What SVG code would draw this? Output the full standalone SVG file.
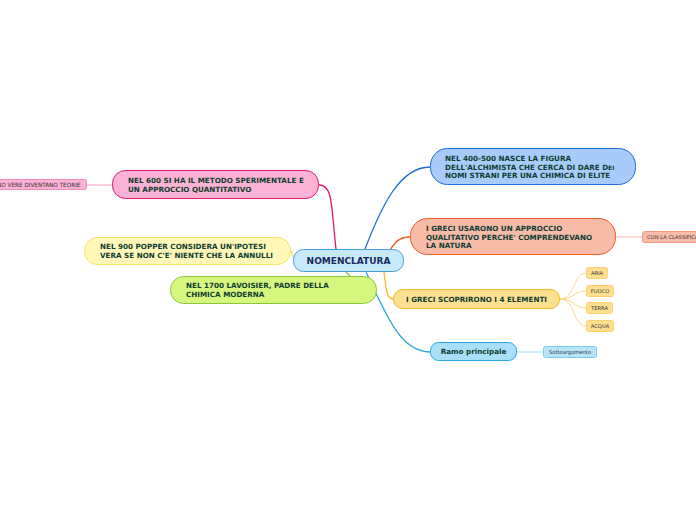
<svg xmlns="http://www.w3.org/2000/svg" width="696" height="520" viewBox="0 0 696 520">
<style>
text{font-family:"DejaVu Sans","Verdana",sans-serif;font-weight:bold;fill:#0f3d33;font-size:7.2px}
.sm{font-size:5.2px;font-weight:normal;fill:#333}
.c{fill:none;stroke-width:1.3}
.cs{fill:none;stroke-width:1}
</style>
<rect width="696" height="520" fill="#fff"/>
<g id="connectors">
<path class="c" stroke="#e8136f" d="M336,249 C331,205 333,185 319,185"/>
<path class="c" stroke="#1c6bd8" d="M365,249 C382,205 400,167 430,167"/>
<path class="c" stroke="#f25a29" d="M390,250 C396,241 400,237 410,237"/>
<path class="c" stroke="#f0e060" d="M293,257 C292,253 292,251 291,251"/>
<path class="c" stroke="#8cc63f" d="M346,272 C348,274 349,275 350,276"/>
<path class="c" stroke="#f5b921" d="M384,272 C386,290 387,299 393,299"/>
<path class="c" stroke="#2aa4e0" d="M366,272 C388,320 402,352 430,352"/>
<path class="cs" stroke="#f9a0c8" d="M87,185 L112,185"/>
<path class="cs" stroke="#f8bba8" d="M616,237 L642,237"/>
<path class="cs" stroke="#9fdaf7" d="M517,352 L543,352"/>
<path class="cs" stroke="#fcd98a" d="M560,299 C575,299 573,273 586,273"/>
<path class="cs" stroke="#fcd98a" d="M560,299 C575,299 573,291 586,291"/>
<path class="cs" stroke="#fcd98a" d="M560,299 C575,299 573,308 586,308"/>
<path class="cs" stroke="#fcd98a" d="M560,299 C575,299 573,326 586,326"/>
</g>
<g id="center">
<rect x="293.5" y="249.5" width="110" height="22" rx="10" fill="#c6e9fb" stroke="#4a9fd8"/>
<text x="348.5" y="264" text-anchor="middle" style="font-size:9px;fill:#1a2a5a">NOMENCLATURA</text>
</g>
<g id="n600">
<rect x="112.5" y="170.5" width="206" height="28" rx="13" fill="#fbb2d4" stroke="#e8136f"/>
<text x="128" y="183">NEL 600 SI HA IL METODO SPERIMENTALE E</text>
<text x="128" y="192">UN APPROCCIO QUANTITATIVO</text>
</g>
<g id="teorie">
<rect x="-10.5" y="179.5" width="97" height="10" rx="2" fill="#fbb2d4" stroke="#f48ab8"/>
<text class="sm" x="-3" y="186.5" style="font-size:5.7px">NO VERE DIVENTANO TEORIE</text>
</g>
<g id="n900">
<rect x="84.5" y="237.5" width="206" height="27" rx="13" fill="#fff8b8" stroke="#f2e36a"/>
<text x="100" y="249">NEL 900 POPPER CONSIDERA UN'IPOTESI</text>
<text x="100" y="258">VERA SE NON C'E' NIENTE CHE LA ANNULLI</text>
</g>
<g id="n1700">
<rect x="170.5" y="276.5" width="206" height="27" rx="13" fill="#d6f77e" stroke="#8cc63f"/>
<text x="186" y="288">NEL 1700 LAVOISIER, PADRE DELLA</text>
<text x="186" y="297">CHIMICA MODERNA</text>
</g>
<g id="n400">
<rect x="430.5" y="148.5" width="205" height="36" rx="17" fill="#a8cbfa" stroke="#1c6bd8"/>
<text x="445" y="161">NEL 400-500 NASCE LA FIGURA</text>
<text x="445" y="169.5">DELL'ALCHIMISTA CHE CERCA DI DARE D<tspan style="font-size:6px">EI</tspan></text>
<text x="445" y="178">NOMI STRANI PER UNA CHIMICA DI ELITE</text>
</g>
<g id="greci1">
<rect x="410.5" y="218.5" width="205" height="36" rx="17" fill="#f8bba8" stroke="#f25a29"/>
<text x="426" y="231">I GRECI USARONO UN APPROCCIO</text>
<text x="426" y="239.5">QUALITATIVO PERCHE' COMPRENDEVANO</text>
<text x="426" y="248">LA NATURA</text>
</g>
<g id="classif">
<rect x="642.5" y="231.5" width="64" height="11" rx="2" fill="#f8bba8" stroke="#f59a80"/>
<text class="sm" x="647" y="239">CON LA CLASSIFICAZIONE</text>
</g>
<g id="greci2">
<rect x="393.5" y="289.5" width="166" height="19" rx="9" fill="#fde08f" stroke="#f5b921"/>
<text x="476.5" y="301.5" text-anchor="middle">I GRECI SCOPRIRONO I 4 ELEMENTI</text>
</g>
<g id="aria">
<rect x="586.5" y="267.5" width="21" height="11" rx="2" fill="#fde08f" stroke="#fcd06a"/>
<text class="sm" x="597" y="275" text-anchor="middle">ARIA</text>
</g>
<g id="fuoco">
<rect x="586.5" y="285.5" width="27" height="11" rx="2" fill="#fde08f" stroke="#fcd06a"/>
<text class="sm" x="600" y="293" text-anchor="middle">FUOCO</text>
</g>
<g id="terra">
<rect x="586.5" y="302.5" width="26" height="11" rx="2" fill="#fde08f" stroke="#fcd06a"/>
<text class="sm" x="599.5" y="310" text-anchor="middle">TERRA</text>
</g>
<g id="acqua">
<rect x="586.5" y="320.5" width="27" height="11" rx="2" fill="#fde08f" stroke="#fcd06a"/>
<text class="sm" x="600" y="328" text-anchor="middle">ACQUA</text>
</g>
<g id="ramo">
<rect x="430.5" y="342.5" width="86" height="18" rx="8" fill="#a9dff9" stroke="#2aa4e0"/>
<text x="473.5" y="354" text-anchor="middle">Ramo principale</text>
</g>
<g id="sotto">
<rect x="543.5" y="346.5" width="53" height="11" rx="2" fill="#b8e4fa" stroke="#7ccaf0"/>
<text class="sm" x="570" y="354" text-anchor="middle">Sottoargomento</text>
</g>
</svg>
